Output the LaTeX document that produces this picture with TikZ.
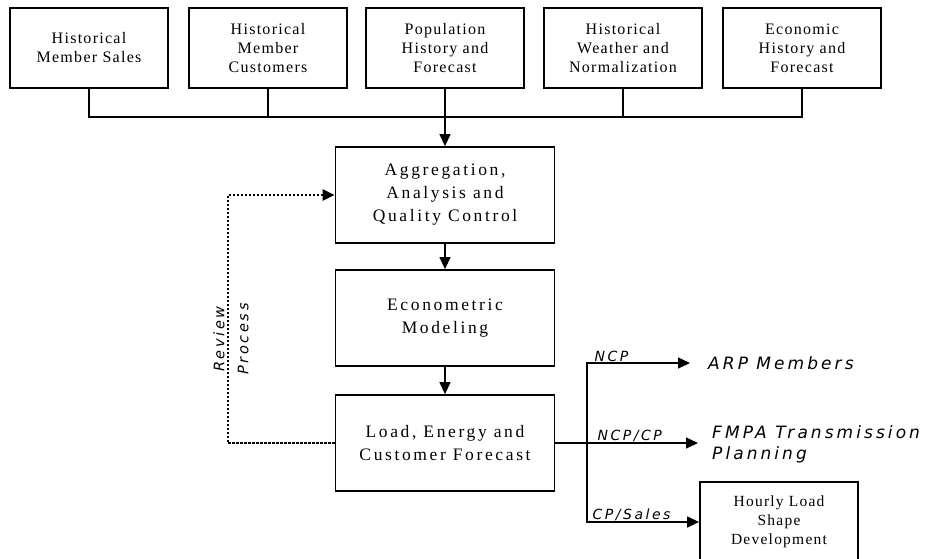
\documentclass[tikz,border=0pt]{standalone}
\usepackage{fontspec}
\usetikzlibrary{arrows.meta}
\newfontfamily\srcfont{Liberation Serif}[LetterSpace=8]
\newfontfamily\stagefont{Liberation Serif}[LetterSpace=15]
\newfontfamily\outfont{DejaVu Sans}[LetterSpace=18]

\begin{document}
\begin{tikzpicture}[x=1pt,y=-1pt,
  srcbox/.style={draw,line width=1.8pt,fill=white,minimum width=158pt,minimum height=80pt,inner sep=0pt,align=center,font=\srcfont\fontsize{16}{19}\selectfont},
  stagebox/.style={draw,line width=1.8pt,fill=white,minimum width=219pt,minimum height=96pt,inner sep=0pt,align=center,font=\stagefont\fontsize{17.5}{23}\selectfont},
  outtxt/.style={anchor=west,align=left,inner sep=0pt,font=\outfont\itshape\fontsize{17}{21}\selectfont},
  lbl/.style={inner sep=1pt,font=\outfont\itshape\fontsize{14}{15}\selectfont},
  conn/.style={line width=1.3pt},
  arr/.style={conn,-{Triangle[length=12pt,width=11pt]}}]
\useasboundingbox (0,0) rectangle (936,558);
% data sources
\foreach \i/\x/\t in %
{1/89/{Historical\\Member Sales},2/268/{Historical\\Member\\Customers},3/445/{Population\\History and\\Forecast},4/623/{Historical\\Weather and\\Normalization},5/802/{Economic\\History and\\Forecast}} {
   \node[srcbox] (src\i) at (\x,48) {\t};
}
% forecast stages
\node[stagebox] (agg) at (445,195) {Aggregation,\\Analysis and\\Quality Control};
\node[stagebox] (econ) at (445,318) {Econometric\\Modeling};
\node[stagebox] (load) at (445,443) {Load, Energy and\\Customer Forecast};
\node[lbl,rotate=90,align=center,font=\outfont\itshape\fontsize{14.5}{24}\selectfont] (rev) at (231,339) {Review\\Process};
% outputs
\node[outtxt] (arp) at (708,363) {ARP Members};
\node[outtxt] (fmpa) at (712,444) {FMPA Transmission\\Planning};
\node[srcbox,font=\srcfont\fontsize{15.5}{19}\selectfont] (hourly) at (779,522) {Hourly Load\\Shape\\Development};
\coordinate (bus) at (445,117);
\coordinate (split) at (587,443);
\draw[conn] (src1.south) |- (bus) -| (src5.south);
\foreach \i in {2,4}
   \draw[conn] (src\i.south) -- (src\i.south |- bus);
\draw[arr] (src3.south) -- (agg.north);
\draw[arr] (agg) -- (econ);
\draw[arr] (econ) -- (load);
\draw[arr,line width=2.2pt,dash pattern=on 2.4pt off 1.6pt] (load.west) -- ++(-107,0) |- (agg.west);
\draw[conn] (load.east) -- (split);
\draw[arr,shorten >=18pt] (split) |- node[lbl,above right,xshift=6pt] {NCP} (arp.west);
\draw[arr,shorten >=14pt] (split) -- node[lbl,pos=0,above right,xshift=9pt] {NCP/CP} (fmpa.west |- split);
\draw[arr] (split) |- node[lbl,above right,xshift=4pt] {CP/Sales} (hourly.west);
\end{tikzpicture}
\end{document}
